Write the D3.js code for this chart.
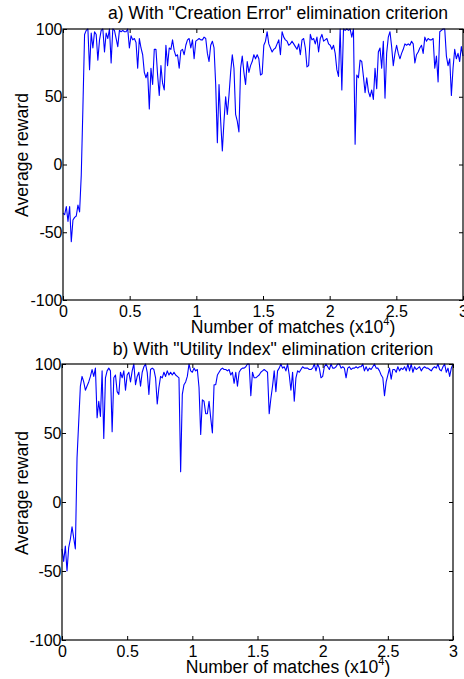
<!DOCTYPE html>
<html>
<head>
<meta charset="utf-8">
<script src="https://d3js.org/d3.v7.min.js"></script>
<style>
  body { margin: 0; background: #fff; }
  text { font-family: Arial, "Liberation Sans", sans-serif; fill: #000; }
  .domain { display: none; }
  g.tick line { stroke: #000; }
</style>
</head>
<body>
<div id="chartHere"></div>
<script>

// tick labels (x in units of 10^4 matches)
var xTicks = [0, 0.5, 1, 1.5, 2, 2.5, 3];
var yTicks = [-100, -50, 0, 50, 100];

var titleA = 'a) With "Creation Error" elimination criterion';
var titleB = 'b) With "Utility Index" elimination criterion';
var yLabel = 'Average reward';

// average reward, evenly spaced over 0..3 (x10^4 matches)
var rewardA = [
  -36, -37, -31, -42, -31, -57, -41, -39, -38, -30,
  -35, -8, 42, 96, 99, 100, 70, 97, 86, 98,
  96, 77, 92, 99, 100, 83, 97, 93, 100, 75,
  100, 99, 93, 87, 99, 98, 99, 98, 98, 100,
  86, 95, 92, 93, 90, 71, 93, 86, 81, 68,
  64, 68, 41, 71, 59, 85, 85, 66, 51, 73,
  60, 55, 88, 73, 86, 85, 92, 84, 80, 81,
  71, 84, 85, 81, 88, 92, 93, 86, 92, 78,
  91, 92, 93,
  92, 92, 94, 93, 82, 76, 88, 91, 86, 59,
  16, 59, 32, 10, 32, 50, 37, 51, 68, 81,
  71, 37, 32, 24, 71, 80, 68, 59, 76, 68,
  73, 76, 81, 78, 81, 78, 66, 67, 88, 91,
  98, 89, 86, 83, 85, 86, 89, 92, 81, 98,
  94, 92, 91, 88, 89, 91, 89, 87, 85, 89,
  81, 92, 93, 86, 72, 73, 96, 92, 93, 89,
  94, 83, 93, 96, 91, 92, 93, 89, 88, 85,
  88,
  82, 70, 65, 100, 55, 100, 99, 100, 99, 100,
  94, 100, 15, 66, 64, 77, 76, 65, 53, 64,
  54, 50, 55, 48, 71, 56, 83, 86, 71, 91,
  49, 82, 94, 98, 87, 73, 82, 88, 82, 78,
  82, 85, 89, 88, 89, 88, 91, 89, 75, 81,
  83, 86, 88, 82, 94, 91, 93, 92, 92, 93,
  71, 80, 61, 98, 99, 100, 100, 80, 73, 78,
  51, 71, 85, 78, 82, 76, 87, 80
];

var rewardB = [
  -34, -43, -32, -50, -33, -27, -18, -26, -34, 32,
  58, 84, 91, 87, 81, 84, 87, 91, 96, 91,
  97, 61, 73, 62, 95, 46, 90, 95, 97, 95,
  51, 90, 92, 80, 78, 94, 90, 95, 81, 92,
  94, 87, 95, 100, 85, 91, 94, 84, 94, 98,
  100, 94, 78, 96, 97, 96, 90, 71, 83, 91,
  90, 94, 91, 95, 92, 94, 92, 94, 92, 91,
  90, 22, 78, 85, 87, 91, 100, 95, 94, 97,
  95, 96, 83,
  49, 74, 73, 64, 64, 73, 61, 50, 85, 85,
  92, 94, 96, 97, 96, 96, 95, 96, 92, 94,
  86, 94, 84, 94, 96, 97, 97, 98, 100, 100,
  77, 94, 90, 90, 91, 92, 94, 95, 96, 95,
  94, 64, 75, 84, 95, 80, 95, 97, 100, 97,
  98, 95, 100, 92, 81, 94, 73, 90, 95, 94,
  96, 98, 97, 97, 97, 96, 96, 97, 100, 95,
  100, 97, 90, 91, 98, 100, 98, 96, 100, 97,
  97,
  98, 100, 100, 97, 98, 97, 90, 97, 98, 96,
  97, 97, 98, 97, 98, 98, 100, 95, 98, 95,
  97, 96, 98, 100, 97, 97, 95, 92, 90, 77,
  87, 92, 97, 89, 96, 96, 94, 98, 95, 97,
  96, 98, 95, 100, 95, 100, 94, 98, 96, 97,
  98, 95, 97, 98, 97, 97, 96, 95, 97, 98,
  97, 100, 96, 95, 98, 100, 94, 97, 91, 97,
  100
];

var svg = d3.select('#chartHere')
  .append('svg')
  .attr('width', 464)
  .attr('height', 679);

function panel(series, title, box)
{
  var x = d3.scaleLinear().domain([0, 3]).range([box.left, box.right]);
  var y = d3.scaleLinear().domain([-100, 100]).range([box.bottom, box.top]);
  var step = 3 / (series.length - 1);
  var fmt = function (d) { return String(d); };

  // data line
  var line = d3.line()
    .x(function (d, i) { return x(i * step); })
    .y(function (d) { return y(d); });

  svg.append('path')
    .datum(series)
    .attr('d', line)
    .attr('fill', 'none')
    .attr('stroke', '#0000ff')
    .attr('stroke-width', 1.1)
    .attr('stroke-linejoin', 'round');

  // axes, ticks pointing inward on all four sides
  var bottom = svg.append('g')
    .attr('transform', 'translate(0,' + box.bottom + ')')
    .call(d3.axisBottom(x).tickValues(xTicks).tickFormat(fmt)
      .tickSize(-4).tickSizeOuter(0).tickPadding(6));
  var left = svg.append('g')
    .attr('transform', 'translate(' + box.left + ',0)')
    .call(d3.axisLeft(y).tickValues(yTicks).tickFormat(fmt)
      .tickSize(-4).tickSizeOuter(0).tickPadding(0.5));
  svg.append('g')
    .attr('transform', 'translate(0,' + box.top + ')')
    .call(d3.axisTop(x).tickValues(xTicks).tickFormat('')
      .tickSize(-4).tickSizeOuter(0));
  svg.append('g')
    .attr('transform', 'translate(' + box.right + ',0)')
    .call(d3.axisRight(y).tickValues(yTicks).tickFormat('')
      .tickSize(-4).tickSizeOuter(0));

  bottom.selectAll('text').attr('font-size', 16);
  left.selectAll('text').attr('font-size', 16);

  // frame
  svg.append('rect')
    .attr('x', box.left)
    .attr('y', box.top)
    .attr('width', box.right - box.left)
    .attr('height', box.bottom - box.top)
    .attr('fill', 'none')
    .attr('stroke', '#000')
    .attr('stroke-width', 1.2);

  svg.append('text')
    .text(title)
    .attr('x', box.titleX)
    .attr('y', box.titleY)
    .attr('text-anchor', 'middle')
    .attr('font-size', 17.6);

  var xl = svg.append('text')
    .attr('x', box.xLabelX)
    .attr('y', box.xLabelY)
    .attr('text-anchor', 'middle')
    .attr('font-size', 17.6);
  xl.append('tspan').text('Number of matches (x10');
  xl.append('tspan').text('4').attr('font-size', 11).attr('dy', -8);
  xl.append('tspan').text(')').attr('dy', 8);

  svg.append('text')
    .text(yLabel)
    .attr('transform', 'translate(28,' + box.yLabelY + ') rotate(-90)')
    .attr('text-anchor', 'middle')
    .attr('font-size', 17.6);
}

panel(rewardA, titleA, {
  left: 63, right: 463, top: 29, bottom: 300,
  titleX: 278, titleY: 19, xLabelX: 293, xLabelY: 333, yLabelY: 155
});

panel(rewardB, titleB, {
  left: 62, right: 453, top: 364, bottom: 640,
  titleX: 273, titleY: 355, xLabelX: 288, xLabelY: 673, yLabelY: 493
});

</script>
</body>
</html>
